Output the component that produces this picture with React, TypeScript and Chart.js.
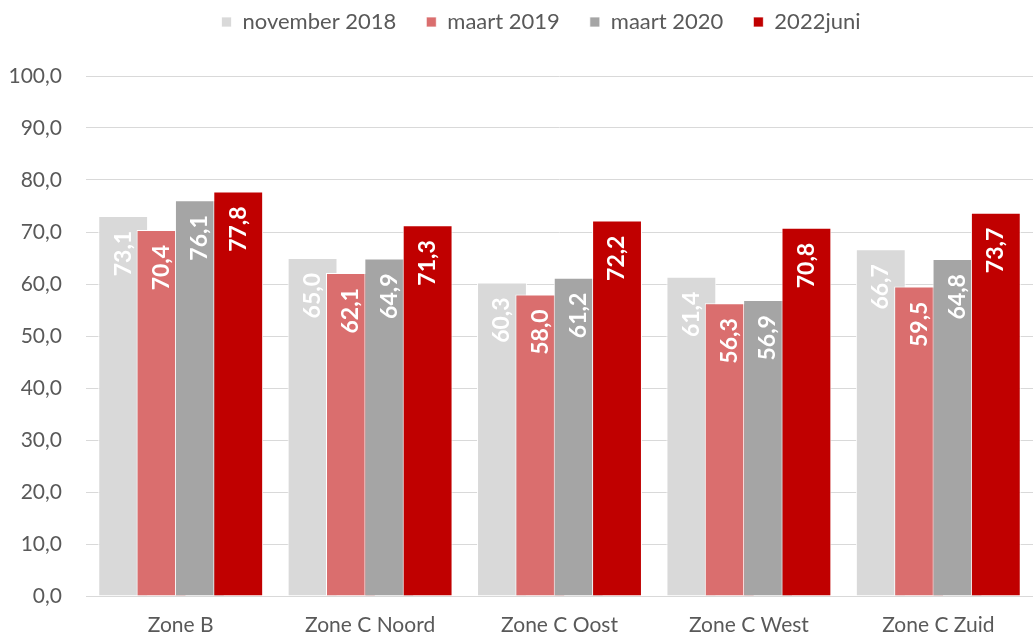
import React, { useEffect, useRef } from "react";
import { Chart, registerables } from "chart.js";

Chart.register(...registerables);

const categories = ["Zone B", "Zone C Noord", "Zone C Oost", "Zone C West", "Zone C Zuid"];
const seriesNames = ["november 2018", "maart 2019", "maart 2020", "2022juni"];
const nov2018 = [73.1, 65.0, 60.3, 61.4, 66.7];
const maart2019 = [70.4, 62.1, 58.0, 56.3, 59.5];
const maart2020 = [76.1, 64.9, 61.2, 56.9, 64.8];
const juni2022 = [77.8, 71.3, 72.2, 70.8, 73.7];
const seriesColors = ["#D9D9D9", "#DA6E6E", "#A5A5A5", "#C00000"];
const yMin = 0;
const yMax = 100;
const yStep = 10;

const FONT = "Lato, 'Open Sans', sans-serif";
const TEXT_COLOR = "#595959";

const fmt = (v: number) => v.toFixed(1).replace(".", ",");

const forwardDrawPlugin = {
  id: "forwardDraw",
  afterInit(chart: any) {
    const legend = chart.legend;
    if (legend) {
      const origFit = legend.fit;
      legend.fit = function () {
        origFit.call(this);
        this.height = 76;
      };
      const origDraw = legend.draw;
      legend.draw = function () {
        const ctx = this.ctx;
        ctx.save();
        ctx.translate(24.5, -19);
        origDraw.call(this);
        ctx.restore();
      };
    }
  },
  beforeDatasetsDraw(chart: any) {
    const ctx = chart.ctx;
    const n = chart.data.datasets.length;
    for (let i = 0; i < n; i++) {
      const meta = chart.getDatasetMeta(i);
      if (!meta.hidden) meta.controller.draw();
    }
    ctx.save();
    ctx.fillStyle = "#FFFFFF";
    ctx.font = `bold 23px ${FONT}`;
    ctx.textAlign = "right";
    ctx.textBaseline = "middle";
    for (let i = 0; i < n; i++) {
      const meta = chart.getDatasetMeta(i);
      if (meta.hidden) continue;
      const data = chart.data.datasets[i].data as number[];
      meta.data.forEach((el: any, j: number) => {
        ctx.save();
        ctx.translate(el.x, el.y + 15);
        ctx.rotate(-Math.PI / 2);
        ctx.fillText(fmt(data[j]), 0, 0);
        ctx.restore();
      });
    }
    ctx.restore();
    return false;
  },
};

export default function App() {
  const canvasRef = useRef<HTMLCanvasElement | null>(null);

  useEffect(() => {
    document.body.style.margin = "0";
    const canvas = canvasRef.current;
    if (!canvas) return;
    const values = [nov2018, maart2019, maart2020, juni2022];
    const chart = new Chart(canvas, {
      type: "bar",
      data: {
        labels: categories,
        datasets: seriesNames.map((name, i) => ({
          label: name,
          data: values[i],
          backgroundColor: seriesColors[i],
          borderColor: "#FFFFFF",
          borderWidth: { top: 1, left: 1, right: 1, bottom: 0 },
          borderSkipped: false,
          categoryPercentage: 0.81,
          barPercentage: 1.3,
        })),
      },
      options: {
        responsive: false,
        animation: false,
        layout: { padding: { left: 0, right: 0, top: 0, bottom: 0 } },
        plugins: {
          tooltip: { enabled: false },
          legend: {
            display: true,
            position: "top",
            align: "center",
            labels: {
              boxWidth: 10,
              boxHeight: 10,
              padding: 30,
              color: TEXT_COLOR,
              font: { family: FONT, size: 22 },
            },
          },
        },
        scales: {
          x: {
            grid: { display: false, drawTicks: false },
            border: { display: true, color: "#D9D9D9", width: 1 },
            ticks: {
              color: TEXT_COLOR,
              font: { family: FONT, size: 21 },
              padding: 17,
            },
            afterFit: (s: any) => {
              s.height = 41;
            },
          },
          y: {
            min: yMin,
            max: yMax,
            grid: { color: "#D9D9D9", lineWidth: 1, drawTicks: false },
            border: { display: false },
            ticks: {
              stepSize: yStep,
              color: TEXT_COLOR,
              font: { family: FONT, size: 21 },
              padding: 24,
              callback: (v: any) => fmt(Number(v)),
            },
            afterFit: (s: any) => {
              s.width = 86;
            },
          },
        },
      },
      plugins: [forwardDrawPlugin],
    });
    return () => chart.destroy();
  }, []);

  return (
    <div style={{ width: 1033, height: 637 }}>
      <canvas ref={canvasRef} width={1033} height={637} style={{ display: "block" }} />
    </div>
  );
}
